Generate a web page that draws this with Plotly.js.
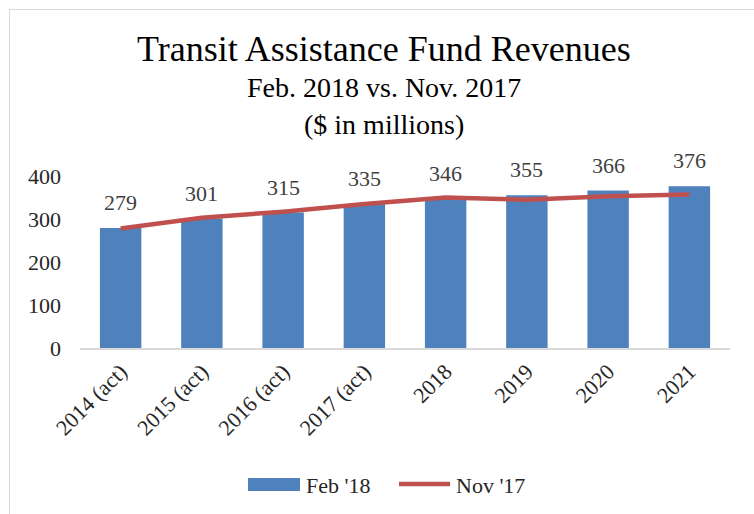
<!DOCTYPE html>
<html>
<head>
<meta charset="utf-8">
<script src="https://cdn.plot.ly/plotly-3.0.1.min.js"></script>
<style>
  html, body { margin: 0; padding: 0; background: #fff; overflow: hidden; }
  #wrap { position: relative; width: 754px; height: 514px; }
  #chart { position: absolute; left: 0; top: 0; width: 754px; height: 514px; }
  #frame { position: absolute; left: 9px; top: 9px; width: 800px; height: 600px;
           border: 1px solid #d9d9d9; pointer-events: none; }
</style>
</head>
<body>
<div id="wrap">
  <div id="chart"></div>
  <div id="frame"></div>
</div>
<script>
// ---- data ----
const categories = ['2014 (act)', '2015 (act)', '2016 (act)', '2017 (act)', '2018', '2019', '2020', '2021'];
const feb18 = [279, 301, 315, 335, 346, 355, 366, 376];
const nov17 = [278, 303, 317, 335, 350, 345, 353, 357];
const yTicks = [0, 100, 200, 300, 400];
const titleLines = ['Transit Assistance Fund Revenues', 'Feb. 2018 vs. Nov. 2017', '($ in millions)'];
const seriesNames = ["Feb '18", "Nov '17"];

// ---- layout geometry (pixels) ----
const W = 754, H = 514;
const M = { l: 80, r: 24, t: 176, b: 166 };
const PW = W - M.l - M.r, PH = H - M.t - M.b;
const px = x => (x - M.l) / PW;
const py = y => (H - M.b - y) / PH;

const FONT = '"Liberation Serif", "Times New Roman", serif';
const BLUE = '#4f81bd', RED = '#c0504d';

const traces = [
  {
    type: 'bar', x: categories, y: feb18, name: seriesNames[0],
    marker: { color: BLUE }, showlegend: false, hoverinfo: 'skip'
  },
  {
    type: 'scatter', mode: 'lines', x: categories, y: nov17, name: seriesNames[1],
    line: { color: RED, width: 4.5 }, showlegend: false, cliponaxis: false, hoverinfo: 'skip'
  }
];

const annotations = [];
// data labels for bars (x given as category index)
categories.forEach((c, i) => {
  annotations.push({
    x: i, y: feb18[i], xref: 'x', yref: 'y', text: String(feb18[i]),
    showarrow: false, yanchor: 'bottom', yshift: 11,
    font: { family: FONT, size: 22, color: '#404040' }
  });
});
// title lines
const titleY = [49, 87, 125];
const titleSize = [36, 28, 28];
titleLines.forEach((t, i) => {
  annotations.push({
    x: px(384), y: py(titleY[i]), xref: 'paper', yref: 'paper', text: t,
    showarrow: false, xanchor: 'center', yanchor: 'middle',
    font: { family: FONT, size: titleSize[i], color: '#000' }
  });
});
// legend labels
annotations.push({
  x: px(304), y: py(485), xref: 'paper', yref: 'paper', text: seriesNames[0],
  showarrow: false, xanchor: 'left', yanchor: 'middle',
  font: { family: FONT, size: 22, color: '#262626' }
});
annotations.push({
  x: px(454), y: py(485), xref: 'paper', yref: 'paper', text: seriesNames[1],
  showarrow: false, xanchor: 'left', yanchor: 'middle',
  font: { family: FONT, size: 22, color: '#262626' }
});

const shapes = [
  { type: 'rect', xref: 'paper', yref: 'paper', x0: px(248), x1: px(300), y0: py(478), y1: py(491),
    fillcolor: BLUE, line: { width: 0 } },
  { type: 'line', xref: 'paper', yref: 'paper', x0: px(399), x1: px(450), y0: py(484), y1: py(484),
    line: { color: RED, width: 4.5 } }
];

const layout = {
  width: W, height: H,
  margin: M,
  paper_bgcolor: '#fff', plot_bgcolor: '#fff',
  bargap: 0.49,
  showlegend: false,
  font: { family: FONT, size: 22, color: '#262626' },
  xaxis: {
    type: 'category', categoryarray: categories, categoryorder: 'array',
    range: [-0.5, categories.length - 0.5], autorange: false,
    showgrid: false, zeroline: false,
    showline: true, linecolor: '#d9d9d9', linewidth: 2,
    ticks: '', tickangle: -45,
    tickfont: { family: FONT, size: 22, color: '#262626' }
  },
  yaxis: {
    range: [0, 400], autorange: false, tickvals: yTicks, ticktext: yTicks.map(String),
    showgrid: false, zeroline: false, showline: false, ticks: '',
    ticklabelstandoff: 18,
    tickfont: { family: FONT, size: 22, color: '#262626' }
  },
  annotations: annotations,
  shapes: shapes
};

Plotly.newPlot('chart', traces, layout, { displayModeBar: false, staticPlot: true });
</script>
</body>
</html>
